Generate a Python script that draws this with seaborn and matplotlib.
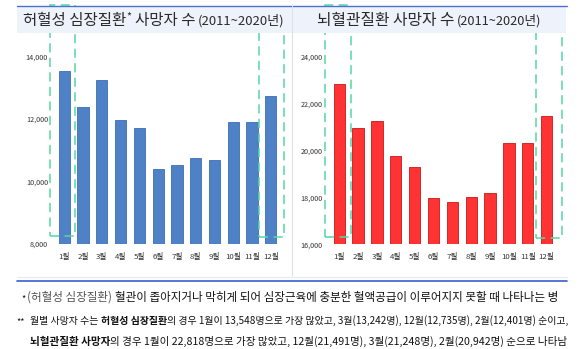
import matplotlib
matplotlib.use("Agg")
import matplotlib.pyplot as plt
import matplotlib.transforms as mtransforms
from matplotlib.patches import Rectangle
from matplotlib.lines import Line2D
import seaborn as sns
import pandas as pd

# ---- data -------------------------------------------------------------
months = ["1월", "2월", "3월", "4월", "5월", "6월",
          "7월", "8월", "9월", "10월", "11월", "12월"]
ihd_deaths = [13548, 12401, 13242, 11980, 11720, 10410,
              10540, 10750, 10700, 11920, 11920, 12735]
cvd_deaths = [22818, 20942, 21248, 19750, 19300, 17970,
              17790, 18030, 18200, 20310, 20310, 21491]
ihd_ticks = [8000, 10000, 12000, 14000]
cvd_ticks = [16000, 18000, 20000, 22000, 24000]
highlight_months = ["1월", "12월"]

ihd_title = "허혈성 심장질환"
cvd_title = "뇌혈관질환 사망자 수"
period = "(2011~2020년)"

# ---- style ------------------------------------------------------------
sns.set_theme(style="white")
FONT = ["Noto Sans CJK KR", "DejaVu Sans"]
plt.rcParams["font.family"] = FONT

W, H = 580, 349
fig = plt.figure(figsize=(W / 100, H / 100), dpi=100)
fig.patch.set_facecolor("white")
renderer = fig.canvas.get_renderer()


def fx(x):
    return x / W


def fy(y):
    return 1 - y / H


def px_rect(x0, y0, x1, y1):
    return [x0 / W, 1 - y1 / H, (x1 - x0) / W, (y1 - y0) / H]


# card decorations
fig.patches.append(Rectangle((fx(17), fy(33)), fx(566) - fx(17), fy(6) - fy(33),
                             transform=fig.transFigure, color="#eef3fb", lw=0, zorder=0))
fig.lines.append(Line2D([fx(17), fx(567)], [fy(5.5), fy(5.5)], transform=fig.transFigure,
                        color="#4f6fd0", lw=1.0))
fig.lines.append(Line2D([fx(291.5), fx(291.5)], [fy(6), fy(276)], transform=fig.transFigure,
                        color="#dde2ea", lw=0.8))
fig.lines.append(Line2D([fx(17), fx(567)], [fy(277), fy(277)], transform=fig.transFigure,
                        color="#e3e9f6", lw=0.8))
fig.lines.append(Line2D([fx(17), fx(567)], [fy(280.5), fy(280.5)], transform=fig.transFigure,
                        color="#3a5fd0", lw=1.2))


def space_width(size, weight="normal"):
    a = fig.text(0, 0, "가 가", fontsize=size, fontweight=weight, family=FONT)
    b = fig.text(0, 0, "가가", fontsize=size, fontweight=weight, family=FONT)
    w = a.get_window_extent(renderer).width - b.get_window_extent(renderer).width
    a.remove()
    b.remove()
    return w


def draw_runs(x, y, runs, target=None):
    """Draw text runs left to right from pixel x on baseline pixel y.
    runs: (text, size, weight, color, raise_px). If target is given the
    whole line is scaled so it ends at that pixel x."""
    def place(scale):
        artists = []
        cur = x
        for text, size, weight, color, dy in runs:
            s = size * scale
            lead = len(text) - len(text.lstrip(" "))
            trail = len(text) - len(text.rstrip(" "))
            sw = space_width(s, weight)
            cur += lead * sw
            core = text.strip(" ")
            t = fig.text(fx(cur), fy(y - dy * scale), core, fontsize=s, fontweight=weight,
                         color=color, family=FONT, va="baseline", ha="left")
            artists.append(t)
            cur += t.get_window_extent(renderer).width + trail * sw
        return artists, cur

    artists, end = place(1.0)
    if target is not None:
        scale = (target - x) / (end - x)
        for a in artists:
            a.remove()
        artists, end = place(scale)
    return end


# ---- panels -------------------------------------------------------------
panels = [
    dict(values=ihd_deaths, ticks=ihd_ticks, color="#4f81c7", edge="#3b6db5",
         rect=px_rect(54.9, 56.7, 280.2, 244.0),
         boxes=[(-0.76, 0.57, 5, 236), (-0.63, 0.70, 7, 237)]),
    dict(values=cvd_deaths, ticks=cvd_ticks, color="#ff3333", edge="#c81818",
         rect=px_rect(329.8, 56.7, 556.0, 244.3),
         boxes=[(-0.75, 0.63, 5, 237), (-0.56, 0.82, 8, 238)]),
]

for p in panels:
    ax = fig.add_axes(p["rect"])
    df = pd.DataFrame({"month": months, "deaths": p["values"]})
    sns.barplot(data=df, x="month", y="deaths", ax=ax, color=p["color"],
                saturation=1, width=0.6, edgecolor=p["edge"], linewidth=0.6)
    ax.set_ylim(p["ticks"][0], p["ticks"][-1])
    ax.set_xlim(-0.5, len(months) - 0.5)
    ax.set_yticks(p["ticks"])
    ax.set_yticklabels([f"{t:,}" for t in p["ticks"]])
    ax.set_xlabel("")
    ax.set_ylabel("")
    ax.set_facecolor("none")
    for s in ax.spines.values():
        s.set_visible(False)
    ax.tick_params(axis="y", length=0, pad=5, labelsize=5.2, labelcolor="#333333")
    ax.tick_params(axis="x", length=0, pad=6.5, labelsize=5.6, labelcolor="#333333")

    # dashed highlight frames around the first and last month
    trans = mtransforms.blended_transform_factory(ax.transData, fig.transFigure)
    for m, (dx0, dx1, ytop, ybot) in zip(highlight_months, p["boxes"]):
        i = months.index(m)
        r = Rectangle((i + dx0, fy(ybot)), dx1 - dx0, fy(ytop) - fy(ybot),
                      transform=trans, fill=False, edgecolor="#52d9a4", lw=1.1,
                      linestyle=(0, (6, 3.5)), clip_on=False, zorder=5)
        ax.add_patch(r)

# ---- titles -------------------------------------------------------------
TC = "#2a2a2a"
draw_runs(23, 25, [(ihd_title, 8.0, "normal", TC, 0),
                   ("*", 5.5, "normal", TC, 4),
                   (" 사망자 수", 8.0, "normal", TC, 0)], target=196)
draw_runs(198, 25, [(period, 6.8, "normal", TC, 0)], target=285)
draw_runs(317, 25, [(cvd_title, 8.0, "normal", TC, 0)], target=455)
draw_runs(457, 25, [(period, 6.8, "normal", TC, 0)], target=542)

# ---- footnotes ----------------------------------------------------------
NC = "#111111"
GC = "#555555"
fs = 6.5
draw_runs(21, 301, [("*", fs, "normal", NC, 0)])
draw_runs(27, 301, [("(허혈성 심장질환)", fs, "normal", GC, 0),
                    (" 혈관이 좁아지거나 막히게 되어 심장근육에 충분한 혈액공급이 이루어지지 못할 때 나타나는 병",
                     fs, "normal", NC, 0)], target=556)
draw_runs(16, 324, [("**", fs, "normal", NC, 0)])
draw_runs(30, 324, [("월별 사망자 수는 ", fs, "normal", NC, 0),
                    ("허혈성 심장질환", fs, "bold", NC, 0),
                    ("의 경우 1월이 13,548명으로 가장 많았고, 3월(13,242명), 12월(12,735명), 2월(12,401명) 순이고,",
                     fs, "normal", NC, 0)], target=568)
draw_runs(30, 345, [("뇌혈관질환 사망자", fs, "bold", NC, 0),
                    ("의 경우 1월이 22,818명으로 가장 많았고, 12월(21,491명), 3월(21,248명), 2월(20,942명) 순으로 나타남",
                     fs, "normal", NC, 0)], target=566)

fig.savefig("out.png", dpi=100, facecolor="white")
